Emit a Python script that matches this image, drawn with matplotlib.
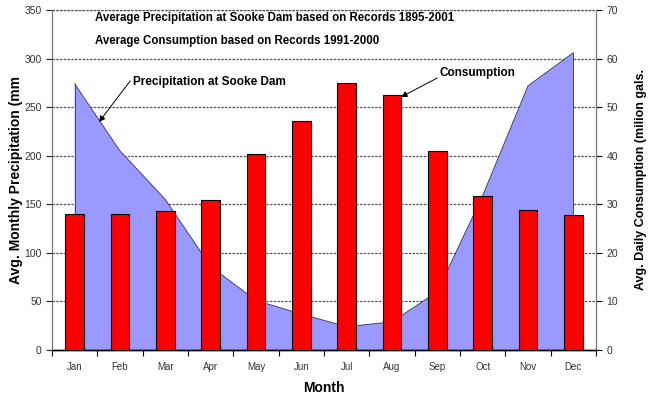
import matplotlib
matplotlib.use("Agg")
import matplotlib.pyplot as plt
import numpy as np

months = ["Jan", "Feb", "Mar", "Apr", "May", "Jun", "Jul", "Aug", "Sep", "Oct", "Nov", "Dec"]
precip_mm = [274, 205, 155, 86, 51, 37, 24, 29, 60, 159, 272, 306]
consumption_mgal = [28.0, 28.1, 28.6, 30.9, 40.3, 47.2, 55.0, 52.4, 41.0, 31.7, 28.8, 27.8]
left_ticks = [0, 50, 100, 150, 200, 250, 300, 350]
right_ticks = [0, 10, 20, 30, 40, 50, 60, 70]

plt.rcParams['font.family'] = ['Liberation Sans', 'DejaVu Sans']

W, H = 649, 394
fig = plt.figure(figsize=(W / 100, H / 100), dpi=100)
ax = fig.add_axes([52 / W, 1 - 350 / H, (596 - 52) / W, 340 / H])
x = np.arange(len(months))

# grid lines (beneath area)
for v in left_ticks[1:]:
    ax.axhline(v, color='#555555', lw=0.9, ls=(0, (2, 1)), zorder=1)

ax.fill_between(x, 0, precip_mm, facecolor='#9999FF', edgecolor='none', zorder=2)
ax.plot(x, precip_mm, color='#333355', lw=0.6, zorder=3)
ax.plot([x[0], x[0]], [0, precip_mm[0]], color='#333355', lw=0.6, zorder=3)
ax.plot([x[-1], x[-1]], [0, precip_mm[-1]], color='#333355', lw=0.6, zorder=3)

ax.set_xlim(-0.5, len(months) - 0.5)
ax.set_ylim(0, 350)
ax.set_yticks(left_ticks)
ax.set_xticks(x)
ax.set_xticklabels(months)
ax.set_xticks(np.arange(len(months) + 1) - 0.5, minor=True)
ax.tick_params(axis='x', which='major', length=0, labelsize=7, pad=9, colors='#222222')
ax.tick_params(axis='x', which='minor', length=4, direction='out', width=0.8)
ax.tick_params(axis='y', length=4, direction='out', labelsize=7.5, colors='#222222', width=0.8)
for lab in ax.get_yticklabels() + ax.get_xticklabels():
    lab.set_color('#333333')

ax2 = ax.twinx()
ax2.bar(x, consumption_mgal, width=0.41, color='#FF0000', edgecolor='#000000', linewidth=0.8, zorder=4)
ax2.set_ylim(0, 70)
ax2.set_yticks(right_ticks)
ax2.tick_params(axis='y', length=4, direction='out', labelsize=7.5, width=0.8)
for lab in ax2.get_yticklabels():
    lab.set_color('#333333')

for a in (ax, ax2):
    a.spines['top'].set_visible(False)
    a.spines['left'].set_color('#777777')
    a.spines['left'].set_linestyle((0, (1, 1)))
    a.spines['right'].set_color('#777777')
    a.spines['right'].set_linestyle((0, (1, 1)))
    a.spines['bottom'].set_color('#000000')
    a.spines['bottom'].set_linewidth(1.0)
ax.axhline(350, color='#555555', lw=0.9, ls=(0, (2, 1)), zorder=1, clip_on=False)

ax.set_xlabel("Month", fontsize=10, fontweight='bold', labelpad=6)
ax.set_ylabel("Avg. Monthly Precipitation (mm", fontsize=10, fontweight='bold', labelpad=1)
ax2.set_ylabel("Avg. Daily Consumption (milion gals.", fontsize=9, fontweight='bold', labelpad=12)

fig.text(95 / W, 1 - 18 / H, "Average Precipitation at Sooke Dam based on Records 1895-2001",
         fontsize=8.3, fontweight='bold', va='center', ha='left')
fig.text(95 / W, 1 - 41 / H, "Average Consumption based on Records 1991-2000",
         fontsize=8.3, fontweight='bold', va='center', ha='left')

def fp(px, py):
    return (px, H - py)

ax2.annotate("Precipitation at Sooke Dam", xy=fp(99, 122), xycoords='figure pixels',
             xytext=fp(133, 82), textcoords='figure pixels',
             fontsize=8.5, fontweight='bold', va='center', ha='left',
             arrowprops=dict(arrowstyle='-|>', color='black', lw=0.7,
                             mutation_scale=9, shrinkA=0, shrinkB=0,
                             relpos=(0.0, 0.9)), zorder=6)
ax2.annotate("Consumption", xy=fp(401, 97), xycoords='figure pixels',
             xytext=fp(440, 73), textcoords='figure pixels',
             fontsize=8.5, fontweight='bold', va='center', ha='left',
             arrowprops=dict(arrowstyle='-|>', color='black', lw=0.7,
                             mutation_scale=9, shrinkA=0, shrinkB=0,
                             relpos=(0.0, 0.2)), zorder=6)

fig.savefig("out.png", dpi=100)
